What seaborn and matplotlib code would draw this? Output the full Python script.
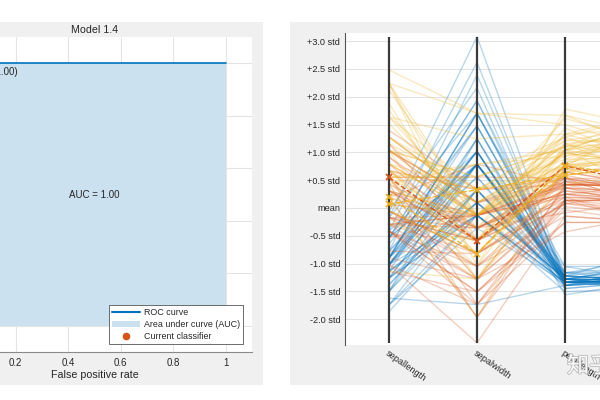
import numpy as np
import pandas as pd
import matplotlib
matplotlib.use("Agg")
import matplotlib.pyplot as plt
import seaborn as sns
from matplotlib.patches import Rectangle, Patch
from matplotlib.lines import Line2D
import matplotlib.patheffects as pe

sns.set_theme(style="white")
plt.rcParams["font.family"] = ["Liberation Sans", "DejaVu Sans"]

# ---------------- ROC panel data ----------------
roc_title = "Model 1.4"
roc_fpr = [0.0, 0.0, 1.0]
roc_tpr = [0.0, 1.0, 1.0]
current_fpr = [0.0]
current_tpr = [1.0]
auc_text = "AUC = 1.00"
point_text = "(0.00,1.00)"
roc_xticks = [0, 0.2, 0.4, 0.6, 0.8, 1]
roc_xticklabels = ["0", "0.2", "0.4", "0.6", "0.8", "1"]
roc_yticks = [0, 0.2, 0.4, 0.6, 0.8, 1]
legend_labels = ["ROC curve", "Area under curve (AUC)", "Current classifier"]

# ---------------- Parallel coordinates data (Fisher iris) ----------------
features = ["sepallength", "sepalwidth", "petallength", "petalwidth"]
sepal_length = [
    5.1, 4.9, 4.7, 4.6, 5.0, 5.4, 4.6, 5.0, 4.4, 4.9, 5.4, 4.8, 4.8, 4.3, 5.8, 5.7, 5.4, 5.1, 5.7, 5.1,
    5.4, 5.1, 4.6, 5.1, 4.8, 5.0, 5.0, 5.2, 5.2, 4.7, 4.8, 5.4, 5.2, 5.5, 4.9, 5.0, 5.5, 4.9, 4.4, 5.1,
    5.0, 4.5, 4.4, 5.0, 5.1, 4.8, 5.1, 4.6, 5.3, 5.0,
    7.0, 6.4, 6.9, 5.5, 6.5, 5.7, 6.3, 4.9, 6.6, 5.2, 5.0, 5.9, 6.0, 6.1, 5.6, 6.7, 5.6, 5.8, 6.2, 5.6,
    5.9, 6.1, 6.3, 6.1, 6.4, 6.6, 6.8, 6.7, 6.0, 5.7, 5.5, 5.5, 5.8, 6.0, 5.4, 6.0, 6.7, 6.3, 5.6, 5.5,
    5.5, 6.1, 5.8, 5.0, 5.6, 5.7, 5.7, 6.2, 5.1, 5.7,
    6.3, 5.8, 7.1, 6.3, 6.5, 7.6, 4.9, 7.3, 6.7, 7.2, 6.5, 6.4, 6.8, 5.7, 5.8, 6.4, 6.5, 7.7, 7.7, 6.0,
    6.9, 5.6, 7.7, 6.3, 6.7, 7.2, 6.2, 6.1, 6.4, 7.2, 7.4, 7.9, 6.4, 6.3, 6.1, 7.7, 6.3, 6.4, 6.0, 6.9,
    6.7, 6.9, 5.8, 6.8, 6.7, 6.7, 6.3, 6.5, 6.2, 5.9,
]
sepal_width = [
    3.5, 3.0, 3.2, 3.1, 3.6, 3.9, 3.4, 3.4, 2.9, 3.1, 3.7, 3.4, 3.0, 3.0, 4.0, 4.4, 3.9, 3.5, 3.8, 3.8,
    3.4, 3.7, 3.6, 3.3, 3.4, 3.0, 3.4, 3.5, 3.4, 3.2, 3.1, 3.4, 4.1, 4.2, 3.1, 3.2, 3.5, 3.6, 3.0, 3.4,
    3.5, 2.3, 3.2, 3.5, 3.8, 3.0, 3.8, 3.2, 3.7, 3.3,
    3.2, 3.2, 3.1, 2.3, 2.8, 2.8, 3.3, 2.4, 2.9, 2.7, 2.0, 3.0, 2.2, 2.9, 2.9, 3.1, 3.0, 2.7, 2.2, 2.5,
    3.2, 2.8, 2.5, 2.8, 2.9, 3.0, 2.8, 3.0, 2.9, 2.6, 2.4, 2.4, 2.7, 2.7, 3.0, 3.4, 3.1, 2.3, 3.0, 2.5,
    2.6, 3.0, 2.6, 2.3, 2.7, 3.0, 2.9, 2.9, 2.5, 2.8,
    3.3, 2.7, 3.0, 2.9, 3.0, 3.0, 2.5, 2.9, 2.5, 3.6, 3.2, 2.7, 3.0, 2.5, 2.8, 3.2, 3.0, 3.8, 2.6, 2.2,
    3.2, 2.8, 2.8, 2.7, 3.3, 3.2, 2.8, 3.0, 2.8, 3.0, 2.8, 3.8, 2.8, 2.8, 2.6, 3.0, 3.4, 3.1, 3.0, 3.1,
    3.1, 3.1, 2.7, 3.2, 3.3, 3.0, 2.5, 3.0, 3.4, 3.0,
]
petal_length = [
    1.4, 1.4, 1.3, 1.5, 1.4, 1.7, 1.4, 1.5, 1.4, 1.5, 1.5, 1.6, 1.4, 1.1, 1.2, 1.5, 1.3, 1.4, 1.7, 1.5,
    1.7, 1.5, 1.0, 1.7, 1.9, 1.6, 1.6, 1.5, 1.4, 1.6, 1.6, 1.5, 1.5, 1.4, 1.5, 1.2, 1.3, 1.4, 1.3, 1.5,
    1.3, 1.3, 1.3, 1.6, 1.9, 1.4, 1.6, 1.4, 1.5, 1.4,
    4.7, 4.5, 4.9, 4.0, 4.6, 4.5, 4.7, 3.3, 4.6, 3.9, 3.5, 4.2, 4.0, 4.7, 3.6, 4.4, 4.5, 4.1, 4.5, 3.9,
    4.8, 4.0, 4.9, 4.7, 4.3, 4.4, 4.8, 5.0, 4.5, 3.5, 3.8, 3.7, 3.9, 5.1, 4.5, 4.5, 4.7, 4.4, 4.1, 4.0,
    4.4, 4.6, 4.0, 3.3, 4.2, 4.2, 4.2, 4.3, 3.0, 4.1,
    6.0, 5.1, 5.9, 5.6, 5.8, 6.6, 4.5, 6.3, 5.8, 6.1, 5.1, 5.3, 5.5, 5.0, 5.1, 5.3, 5.5, 6.7, 6.9, 5.0,
    5.7, 4.9, 6.7, 4.9, 5.7, 6.0, 4.8, 4.9, 5.6, 5.8, 6.1, 6.4, 5.6, 5.1, 5.6, 6.1, 5.6, 5.5, 4.8, 5.4,
    5.6, 5.1, 5.1, 5.9, 5.7, 5.2, 5.0, 5.2, 5.4, 5.1,
]
petal_width = [
    0.2, 0.2, 0.2, 0.2, 0.2, 0.4, 0.3, 0.2, 0.2, 0.1, 0.2, 0.2, 0.1, 0.1, 0.2, 0.4, 0.4, 0.3, 0.3, 0.3,
    0.2, 0.4, 0.2, 0.5, 0.2, 0.2, 0.4, 0.2, 0.2, 0.2, 0.2, 0.4, 0.1, 0.2, 0.1, 0.2, 0.2, 0.1, 0.2, 0.2,
    0.3, 0.3, 0.2, 0.6, 0.4, 0.3, 0.2, 0.2, 0.2, 0.2,
    1.4, 1.5, 1.5, 1.3, 1.5, 1.3, 1.6, 1.0, 1.3, 1.4, 1.0, 1.5, 1.0, 1.4, 1.3, 1.4, 1.5, 1.0, 1.5, 1.1,
    1.8, 1.3, 1.5, 1.2, 1.3, 1.4, 1.4, 1.7, 1.5, 1.0, 1.1, 1.0, 1.2, 1.6, 1.5, 1.6, 1.5, 1.3, 1.3, 1.3,
    1.2, 1.4, 1.2, 1.0, 1.3, 1.2, 1.3, 1.3, 1.1, 1.3,
    2.5, 1.9, 2.1, 1.8, 2.2, 2.1, 1.7, 1.8, 1.8, 2.5, 2.0, 1.9, 2.1, 2.0, 2.4, 2.3, 1.8, 2.2, 2.3, 1.5,
    2.3, 2.0, 2.0, 1.8, 2.1, 1.8, 1.8, 1.8, 2.1, 1.6, 1.9, 2.0, 2.2, 1.5, 1.4, 2.3, 2.4, 1.8, 1.8, 2.1,
    2.4, 2.3, 1.9, 2.3, 2.5, 2.3, 1.9, 2.0, 2.3, 1.8,
]
class_names = ["setosa", "versicolor", "virginica"]
true_class = ["setosa"] * 50 + ["versicolor"] * 50 + ["virginica"] * 50
# misclassified samples (row index -> predicted class)
misclassified = {70: "virginica", 83: "virginica", 133: "versicolor"}
std_ticks = [3.0, 2.5, 2.0, 1.5, 1.0, 0.5, 0.0, -0.5, -1.0, -1.5, -2.0]
std_labels = ["+3.0 std", "+2.5 std", "+2.0 std", "+1.5 std", "+1.0 std", "+0.5 std",
              "mean", "-0.5 std", "-1.0 std", "-1.5 std", "-2.0 std"]

palette = {"setosa": "#0072BD", "versicolor": "#D95319", "virginica": "#EDB120"}
txt_color = "#262626"

# ---------------- build long table ----------------
raw = np.array([sepal_length, sepal_width, petal_length, petal_width]).T
z = (raw - raw.mean(axis=0)) / raw.std(axis=0, ddof=1)
pred = list(true_class)
for i, c in misclassified.items():
    pred[i] = c
rows = []
for i in range(z.shape[0]):
    for j in range(z.shape[1]):
        rows.append({"id": i, "pos": j + 1, "z": z[i, j], "pred": pred[i],
                     "wrong": i in misclassified})
long_df = pd.DataFrame(rows)

# ---------------- figure ----------------
W, H = 600, 400
fig = plt.figure(figsize=(6, 4), dpi=100, facecolor="white")

def fr(x0, y0, x1, y1):
    return [x0 / W, 1 - y1 / H, (x1 - x0) / W, (y1 - y0) / H]

# gray panels
for x0, x1 in [(0, 263), (290, 600)]:
    b = fr(x0, 22, x1, 385)
    fig.patches.append(Rectangle((b[0], b[1]), b[2], b[3], transform=fig.transFigure,
                                 facecolor="#f0f0f0", edgecolor="none", zorder=-10))

# ---------------- left: ROC ----------------
ax1 = fig.add_axes(fr(-63, 37, 252, 352))
ax1.set_facecolor("white")
ax1.set_axisbelow(True)
ax1.fill_between(roc_fpr, roc_tpr, 0, color="#cbe1f0", lw=0, zorder=1)
sns.lineplot(x=roc_fpr, y=roc_tpr, sort=False, estimator=None, color="#0072BD",
             lw=1.2, ax=ax1, zorder=2)
ax1.scatter(current_fpr, current_tpr, s=30, color="#D95319", zorder=3)
ax1.text(0.03, 0.985, point_text, ha="left", va="top", fontsize=7, color=txt_color)
ax1.text(0.5, 0.5, auc_text, ha="center", va="center", fontsize=7, color=txt_color)
ax1.set_xlim(-0.1, 1.1)
ax1.set_ylim(-0.1, 1.1)
ax1.set_xticks(roc_xticks)
ax1.set_xticklabels(roc_xticklabels)
ax1.set_yticks(roc_yticks)
ax1.grid(True, color="#e4e4e4", lw=0.8)
for s in ["top", "right"]:
    ax1.spines[s].set_visible(False)
for s in ["bottom", "left"]:
    ax1.spines[s].set_color("#8a8a8a")
    ax1.spines[s].set_linewidth(0.8)
ax1.tick_params(direction="in", length=3, width=0.6, color="#555555",
                labelsize=7, labelcolor=txt_color, pad=4)
ax1.set_xlabel("False positive rate", fontsize=7.7, color=txt_color, labelpad=2)
ax1.set_title(roc_title, fontsize=7.7, color=txt_color, pad=3)
handles = [Line2D([], [], color="#0072BD", lw=1.5),
           Patch(facecolor="#cbe1f0", edgecolor="none"),
           Line2D([], [], marker="o", color="#D95319", ls="None", markersize=4.5)]
leg = ax1.legend(handles, legend_labels, loc="lower right", bbox_to_anchor=(0.972, 0.025),
                 fontsize=6.4, frameon=True, fancybox=False, edgecolor="#555555",
                 framealpha=1, handlelength=3.1, handletextpad=0.45, labelspacing=0.35,
                 borderpad=0.35, borderaxespad=0)
leg.get_frame().set_linewidth(0.6)
for t in leg.get_texts():
    t.set_color(txt_color)

# ---------------- right: parallel coordinates ----------------
ax2 = fig.add_axes(fr(345, 33, 697, 345))
ax2.set_facecolor("white")
ax2.set_axisbelow(True)
ok = long_df[~long_df["wrong"]]
bad = long_df[long_df["wrong"]]
sns.lineplot(data=ok, x="pos", y="z", hue="pred", units="id", estimator=None,
             hue_order=class_names, palette=palette, sort=False, alpha=0.28, lw=1.0,
             legend=False, ax=ax2, zorder=2)
for cls in class_names:
    sub = bad[bad["pred"] == cls]
    if sub.empty:
        continue
    sns.lineplot(data=sub, x="pos", y="z", units="id", estimator=None, sort=False,
                 color=palette[cls], alpha=0.95, lw=1.0, linestyle="--",
                 marker="x", markersize=5, markeredgewidth=1.3,
                 markeredgecolor=palette[cls], legend=False, ax=ax2, zorder=4)
ax2.vlines(range(1, len(features) + 1), z.min(), z.max(), color="#3a3a3a", lw=1.6, zorder=3)
ax2.set_xlim(0.5, 4.5)
ax2.set_ylim(-2.464, 3.147)
ax2.set_yticks(std_ticks)
ax2.set_yticklabels(std_labels)
ax2.set_xticks(range(1, len(features) + 1))
ax2.set_xticklabels(features, rotation=-35, ha="left", va="top", rotation_mode="anchor")
ax2.set_xlabel("")
ax2.set_ylabel("")
ax2.yaxis.grid(True, color="#e4e4e4", lw=0.8)
ax2.xaxis.grid(False)
for s in ["top", "right", "bottom"]:
    ax2.spines[s].set_visible(False)
ax2.spines["left"].set_color("#555555")
ax2.spines["left"].set_linewidth(0.8)
ax2.tick_params(axis="y", direction="in", length=3, width=0.6, color="#555555",
                labelsize=6.6, labelcolor=txt_color, pad=3.5)
ax2.tick_params(axis="x", length=0, labelsize=6.6, labelcolor=txt_color, pad=2.5)

# watermark
fig.text(567 / W, 1 - 366 / H, "知乎", fontsize=16, color="white", ha="left", va="center",
         family=["Noto Sans CJK SC", "DejaVu Sans"], alpha=0.9,
         path_effects=[pe.withStroke(linewidth=1.2, foreground="#b5b5b5")])

fig.savefig("out.png", dpi=100, facecolor="white")
